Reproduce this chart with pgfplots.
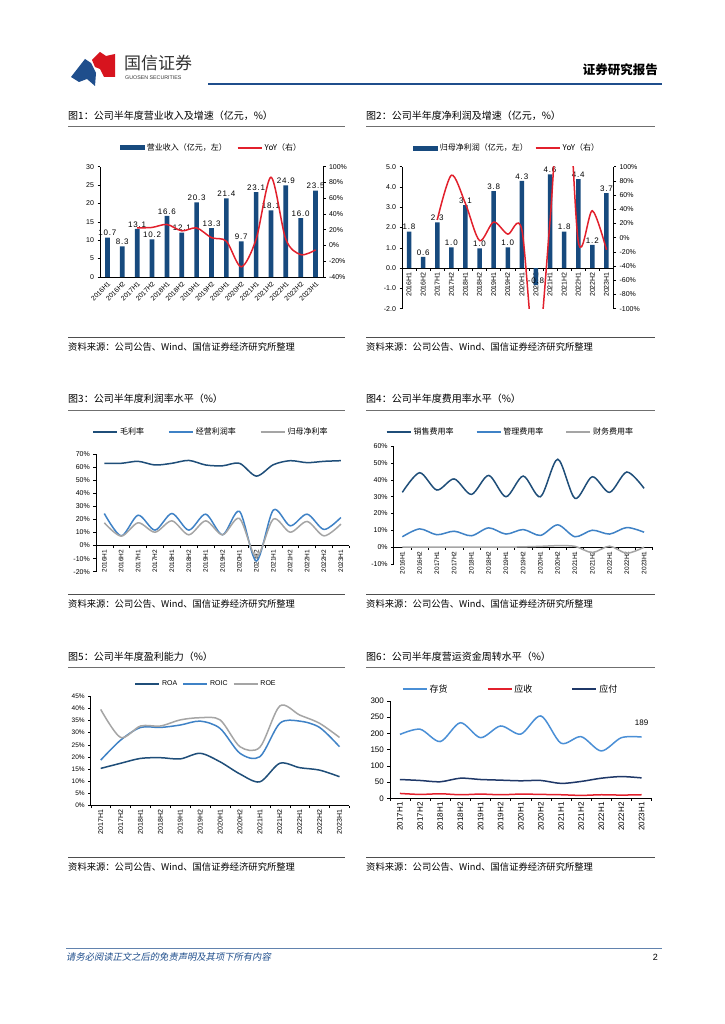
\documentclass[border=0pt]{standalone}
\usepackage{fontspec}
\setmainfont{Liberation Sans}
\newfontfamily\cjk{Noto Sans CJK SC}
\newfontfamily\cjkit[FakeSlant=0.2]{Noto Sans CJK SC}
\newfontfamily\lbl[LetterSpace=10]{Liberation Sans}
\usepackage{pgfplots}
\pgfplotsset{compat=1.18}

\definecolor{barblue}{HTML}{174A7E}
\definecolor{yoyred}{HTML}{E2202C}
\definecolor{dkblue}{HTML}{1F4E79}
\definecolor{mdblue}{HTML}{3F82C6}
\definecolor{ltgray}{HTML}{A5A5A5}
\definecolor{invblue}{HTML}{4A8FD6}
\definecolor{navy}{HTML}{1F3868}
\definecolor{hdblue}{HTML}{1F4E8C}
\definecolor{logored}{HTML}{D7141E}
\definecolor{rulegray}{HTML}{6F6F6F}

\newcommand\titlefont{\cjk\fontsize{10}{12}\selectfont}
\newcommand\srcfont{\cjk\fontsize{9.3}{11}\selectfont}
\newcommand\legfont{\cjk\fontsize{8}{9}\selectfont}

\pgfplotsset{
  base/.style={scale only axis, anchor=south west,
    /pgf/number format/assume math mode=true,
    axis line style={line width=0.6pt},
    tick style={black, line width=0.5pt},
    major tick length=2.5pt, tick align=outside,
    tick label style={font=\fontsize{7}{8}\selectfont},
    hide obscured x ticks=false, hide obscured y ticks=false,
    legend style={draw=none, fill=none, font=\legfont, anchor=center, legend columns=-1},
    legend cell align=left},
  lineleg/.style={legend image code/.code={\draw[##1, line width=1.8pt] (0pt,0pt) -- (24pt,0pt);}},
  pct/.style={yticklabel={\pgfmathprintnumber{\tick}\%}},
  halfA/.style={xtick={-0.5,0.5,...,14.5}, x tick label as interval,
    xticklabels={2016H1,2016H2,2017H1,2017H2,2018H1,2018H2,2019H1,2019H2,2020H1,2020H2,2021H1,2021H2,2022H1,2022H2,2023H1}},
  halfB/.style={xtick={-0.5,0.5,...,12.5}, x tick label as interval,
    xticklabels={2017H1,2017H2,2018H1,2018H2,2019H1,2019H2,2020H1,2020H2,2021H1,2021H2,2022H1,2022H2,2023H1}},
  vlab/.style={x tick label style={rotate=90, anchor=east, inner sep=1.5pt, font=\fontsize{#1}{#1}\selectfont}},
}

\begin{document}
\begin{tikzpicture}
\path[use as bounding box] (0pt,0pt) rectangle (724pt,-1024pt);
\fill[white] (0pt,0pt) rectangle (724pt,-1024pt);

% header
\fill[hdblue] (71pt,-77pt) -- (85pt,-59pt) -- (91pt,-63pt) -- (96pt,-73pt) -- (95pt,-86pt) -- (87pt,-79pt) -- (79pt,-82pt) -- cycle;
\fill[logored] (92pt,-60pt) -- (100pt,-52pt) -- (106pt,-56pt) -- (115pt,-54pt) -- (115pt,-77pt) -- (104pt,-77pt) -- (100pt,-69pt) -- (95pt,-67pt) -- cycle;
\node[anchor=west, font=\cjk\fontsize{17}{17}\selectfont, text=black!80, inner sep=0pt] at (124pt,-63pt) {国信证券};
\node[anchor=west, font=\fontsize{5.3}{6}\selectfont, text=black!80, inner sep=0pt] at (125pt,-78pt) {GUOSEN SECURITIES};
\draw[hdblue, line width=2pt] (208pt,-84pt) -- (662pt,-84pt);
\node[anchor=east, font=\cjk\bfseries\fontsize{12.5}{13}\selectfont, inner sep=0pt] at (658pt,-70pt) {证券研究报告};

% footer
\draw[hdblue!70, line width=0.6pt] (66pt,-948pt) -- (662pt,-948pt);
\node[anchor=west, font=\cjkit\fontsize{9.3}{10}\selectfont, text=hdblue, inner sep=0pt] at (66pt,-957pt) {请务必阅读正文之后的免责声明及其项下所有内容};
\node[anchor=east, font=\fontsize{9}{10}\selectfont, inner sep=0pt] at (658pt,-957pt) {2};

% titles, rules, sources
\foreach \x/\w in {68/345, 366/655} {
  \draw[rulegray, line width=0.8pt] (\x pt,-126pt) -- (\w pt,-126pt);
  \draw[rulegray!70!black, line width=1pt] (\x pt,-337pt) -- (\w pt,-337pt);
  \draw[rulegray, line width=0.8pt] (\x pt,-410pt) -- (\w pt,-410pt);
  \draw[rulegray!70!black, line width=1pt] (\x pt,-594pt) -- (\w pt,-594pt);
  \draw[rulegray, line width=0.8pt] (\x pt,-667pt) -- (\w pt,-667pt);
  \draw[rulegray!70!black, line width=1pt] (\x pt,-857pt) -- (\w pt,-857pt);
  \node[anchor=west, font=\srcfont, inner sep=0pt] at (\x pt,-347pt) {资料来源：公司公告、Wind、国信证券经济研究所整理};
  \node[anchor=west, font=\srcfont, inner sep=0pt] at (\x pt,-604pt) {资料来源：公司公告、Wind、国信证券经济研究所整理};
  \node[anchor=west, font=\srcfont, inner sep=0pt] at (\x pt,-867pt) {资料来源：公司公告、Wind、国信证券经济研究所整理};
}
\node[anchor=west, font=\titlefont, inner sep=0pt] at (68pt,-116pt) {图1：公司半年度营业收入及增速（亿元，\%）};
\node[anchor=west, font=\titlefont, inner sep=0pt] at (366pt,-116pt) {图2：公司半年度净利润及增速（亿元，\%）};
\node[anchor=west, font=\titlefont, inner sep=0pt] at (68pt,-399pt) {图3：公司半年度利润率水平（\%）};
\node[anchor=west, font=\titlefont, inner sep=0pt] at (366pt,-399pt) {图4：公司半年度费用率水平（\%）};
\node[anchor=west, font=\titlefont, inner sep=0pt] at (68pt,-657pt) {图5：公司半年度盈利能力（\%）};
\node[anchor=west, font=\titlefont, inner sep=0pt] at (366pt,-657pt) {图6：公司半年度营运资金周转水平（\%）};

% ---------- chart 1 ----------
\begin{axis}[base, at={(100pt,-277pt)}, width=223pt, height=110.3pt,
  xmin=-0.5, xmax=14.5, ymin=0, ymax=30, ytick={0,5,...,30},
  axis x line*=bottom, axis y line*=left,
  xtick={0,...,14},
  xticklabels={2016H1,2016H2,2017H1,2017H2,2018H1,2018H2,2019H1,2019H2,2020H1,2020H2,2021H1,2021H2,2022H1,2022H2,2023H1},
  major x tick style={draw=none},
  x tick label style={rotate=45, anchor=north east, inner sep=1pt, font=\fontsize{6.8}{7}\selectfont},
  ybar, bar width=4.7pt,
  nodes near coords, point meta=explicit symbolic,
  every node near coord/.append style={font=\lbl\fontsize{8}{9}\selectfont, black, inner sep=1.5pt},
  legend style={at={(axis description cs:0.5,1.17)}, /tikz/every even column/.append style={column sep=8pt}},
]
\addplot[fill=barblue, draw=none, legend image code/.code={\fill[barblue] (0pt,-2.5pt) rectangle (25pt,2.5pt);}] coordinates {
  (0,10.7)[10.7] (1,8.3)[8.3] (2,13.1)[13.1] (3,10.2)[10.2] (4,16.6)[16.6]
  (5,12.1)[12.1] (6,20.3)[20.3] (7,13.3)[13.3] (8,21.4)[21.4] (9,9.7)[9.7]
  (10,23.1)[23.1] (11,18.1)[18.1] (12,24.9)[24.9] (13,16.0)[16.0] (14,23.5)[23.5]};
\addlegendentry{营业收入（亿元，左）}
\addlegendimage{yoyred, lineleg}
\addlegendentry{YoY（右）}
\end{axis}
\begin{axis}[base, pct, at={(100pt,-277pt)}, width=223pt, height=110.3pt,
  xmin=-0.5, xmax=14.5, ymin=-40, ymax=100, ytick={-40,-20,...,100},
  axis x line=none, axis y line*=right]
\addplot[yoyred, line width=1.5pt, smooth] coordinates {
  (2,22.4) (3,22.9) (4,26.7) (5,18.6) (6,22.3) (7,9.9) (8,5.4) (9,-27.1)
  (10,7.9) (11,86.6) (12,7.8) (13,-11.6) (14,-5.6)};
\end{axis}

% ---------- chart 2 ----------
\begin{axis}[base, halfA, vlab=7, at={(402pt,-308.7pt)}, width=211.5pt, height=142pt,
  xmin=-0.5, xmax=14.5, ymin=-2, ymax=5, ytick={-2,-1,...,5},
  yticklabel style={/pgf/number format/.cd, fixed, fixed zerofill, precision=1},
  axis x line*=middle, axis y line*=left,
  ybar, bar width=4.5pt,
  nodes near coords, point meta=explicit symbolic,
  every node near coord/.append style={font=\lbl\fontsize{8}{9}\selectfont, black, inner sep=1.5pt},
  legend style={at={(axis description cs:0.4965,1.13)}, /tikz/every even column/.append style={column sep=5pt}},
]
\addplot[fill=barblue, draw=none, legend image code/.code={\fill[barblue] (0pt,-2.5pt) rectangle (25pt,2.5pt);}] coordinates {
  (0,1.8)[1.8] (1,0.55)[0.6] (2,2.25)[2.3] (3,1.02)[1.0] (4,3.1)[3.1]
  (5,0.98)[1.0] (6,3.8)[3.8] (7,1.02)[1.0] (8,4.3)[4.3] (9,-0.84)[-0.8]
  (10,4.62)[4.6] (11,1.8)[1.8] (12,4.39)[4.4] (13,1.15)[1.2] (14,3.7)[3.7]};
\addlegendentry{归母净利润（亿元，左）}
\addlegendimage{yoyred, lineleg}
\addlegendentry{YoY（右）}
\end{axis}
\begin{axis}[base, pct, at={(402pt,-308.7pt)}, width=211.5pt, height=142pt,
  xmin=-0.5, xmax=14.5, ymin=-100, ymax=100, ytick={-100,-80,...,100},
  axis x line=none, axis y line*=right]
\addplot[yoyred, line width=1.5pt, smooth] coordinates {
  (2,25) (3,88) (4,48) (5,-4) (6,22) (7,5) (8,11) (9,-180)
  (10,24) (11,290) (12,-5) (13,38) (14,-17)};
\end{axis}

% ---------- chart 3 ----------
\begin{axis}[base, pct, halfA, vlab=6.5, at={(95.85pt,-571.7pt)}, width=253.5pt, height=117.7pt,
  xmin=-0.5, xmax=14.5, ymin=-20, ymax=70, ytick={-20,-10,...,70},
  axis x line*=middle, axis y line*=left,
  legend style={at={(axis description cs:0.454,1.187)}, /tikz/every even column/.append style={column sep=22pt}},
]
\addplot[dkblue, line width=1.5pt, smooth, lineleg] coordinates {
  (0,62.9) (1,62.9) (2,64.4) (3,61.6) (4,62.9) (5,65.1) (6,61.6) (7,61.0)
  (8,62.9) (9,53.1) (10,61.8) (11,64.9) (12,63.4) (13,64.4) (14,64.9)};
\addlegendentry{毛利率}
\addplot[mdblue, line width=1.5pt, smooth, lineleg] coordinates {
  (0,24.5) (1,7.4) (2,23.2) (3,11.8) (4,24.5) (5,11.8) (6,24.0) (7,8.2)
  (8,26.1) (9,-11.8) (10,27.1) (11,15.1) (12,24.0) (13,12.3) (14,21.5)};
\addlegendentry{经营利润率}
\addplot[ltgray, line width=1.5pt, smooth, lineleg] coordinates {
  (0,17.4) (1,7.2) (2,17.4) (3,10.2) (4,18.9) (5,8.2) (6,18.9) (7,8.2)
  (8,20.7) (9,-8.7) (10,20.2) (11,10.2) (12,18.4) (13,7.4) (14,16.4)};
\addlegendentry{归母净利率}
\end{axis}

% ---------- chart 4 ----------
\begin{axis}[base, pct, halfA, vlab=6.5, at={(393.7pt,-564pt)}, width=259pt, height=117.7pt,
  xmin=-0.5, xmax=14.5, ymin=-10, ymax=60, ytick={-10,0,...,60},
  axis x line*=middle, axis y line*=left,
  legend style={at={(axis description cs:0.451,1.124)}, /tikz/every even column/.append style={column sep=20pt}},
]
\addplot[dkblue, line width=1.5pt, smooth, lineleg] coordinates {
  (0,32.6) (1,44.3) (2,34.0) (3,40.6) (4,31.4) (5,42.7) (6,30.0) (7,42.3)
  (8,30.0) (9,52.3) (10,29.0) (11,41.9) (12,32.6) (13,44.7) (14,35.0)};
\addlegendentry{销售费用率}
\addplot[mdblue, line width=1.5pt, smooth, lineleg] coordinates {
  (0,6.2) (1,10.9) (2,7.4) (3,9.5) (4,6.8) (5,11.5) (6,7.8) (7,10.5)
  (8,7.0) (9,13.3) (10,6.2) (11,10.1) (12,7.8) (13,11.7) (14,8.9)};
\addlegendentry{管理费用率}
\addplot[ltgray, line width=1.5pt, smooth, lineleg] coordinates {
  (0,0) (1,0) (2,0) (3,0) (4,0) (5,0) (6,0) (7,0.2)
  (8,0.5) (9,0.9) (10,0.5) (11,-3.2) (12,0.6) (13,-3.6) (14,0)};
\addlegendentry{财务费用率}
\end{axis}

% ---------- chart 5 ----------
\begin{axis}[base, pct, halfB, vlab=7, at={(90.75pt,-805.7pt)}, width=258.7pt, height=109.7pt,
  xmin=-0.5, xmax=12.5, ymin=0, ymax=45, ytick={0,5,...,45},
  tick label style={font=\fontsize{6.5}{7}\selectfont},
  axis x line*=bottom, axis y line*=left,
  legend style={font=\fontsize{7}{8}\selectfont, at={(axis description cs:0.4455,1.107)}, /tikz/every even column/.append style={column sep=3pt}},
]
\addplot[dkblue, line width=1.5pt, smooth, lineleg] coordinates {
  (0,15.3) (1,17.4) (2,19.4) (3,19.7) (4,19.2) (5,21.5) (6,18.0)
  (7,13.0) (8,9.8) (9,17.4) (10,15.6) (11,14.6) (12,11.9)};
\addlegendentry{ROA}
\addplot[mdblue, line width=1.5pt, smooth, lineleg] coordinates {
  (0,18.7) (1,26.9) (2,32.1) (3,32.1) (4,33.1) (5,34.7) (6,31.7)
  (7,21.5) (8,20.1) (9,33.8) (10,34.7) (11,32.1) (12,24.2)};
\addlegendentry{ROIC}
\addplot[ltgray, line width=1.5pt, smooth, lineleg] coordinates {
  (0,39.5) (1,28.0) (2,32.7) (3,32.7) (4,35.2) (5,36.1) (6,35.2)
  (7,24.2) (8,24.0) (9,40.9) (10,37.2) (11,33.8) (12,28.0)};
\addlegendentry{ROE}
\end{axis}

% ---------- chart 6 ----------
\begin{axis}[base, halfB, vlab=8, at={(389.9pt,-798.3pt)}, width=261.7pt, height=97.3pt,
  xmin=-0.5, xmax=12.5, ymin=0, ymax=300, ytick={0,50,...,300},
  tick label style={font=\fontsize{8}{9}\selectfont},
  axis x line*=bottom, axis y line*=left,
  legend style={font=\cjk\fontsize{9}{10}\selectfont, at={(axis description cs:0.461,1.12)}, /tikz/every even column/.append style={column sep=37pt}},
]
\addplot[invblue, line width=1.5pt, smooth, lineleg] coordinates {
  (0,197) (1,213) (2,175) (3,233) (4,187) (5,223) (6,198)
  (7,254) (8,170) (9,190) (10,146) (11,187) (12,189)};
\addlegendentry{存货}
\addplot[yoyred, line width=1.5pt, smooth, lineleg] coordinates {
  (0,15) (1,12) (2,14) (3,11) (4,13) (5,11) (6,13)
  (7,12) (8,11) (9,9) (10,11) (11,10) (12,11)};
\addlegendentry{应收}
\addplot[navy, line width=1.5pt, smooth, lineleg] coordinates {
  (0,58) (1,55) (2,51) (3,62) (4,58) (5,56) (6,54)
  (7,55) (8,46) (9,52) (10,62) (11,67) (12,63)};
\addlegendentry{应付}
\addplot[draw=none, forget plot, nodes near coords, point meta=explicit symbolic,
  every node near coord/.append style={font=\fontsize{8}{9}\selectfont, black, anchor=south, yshift=8pt}]
  coordinates {(12,189)[189]};
\end{axis}
\end{tikzpicture}
\end{document}
